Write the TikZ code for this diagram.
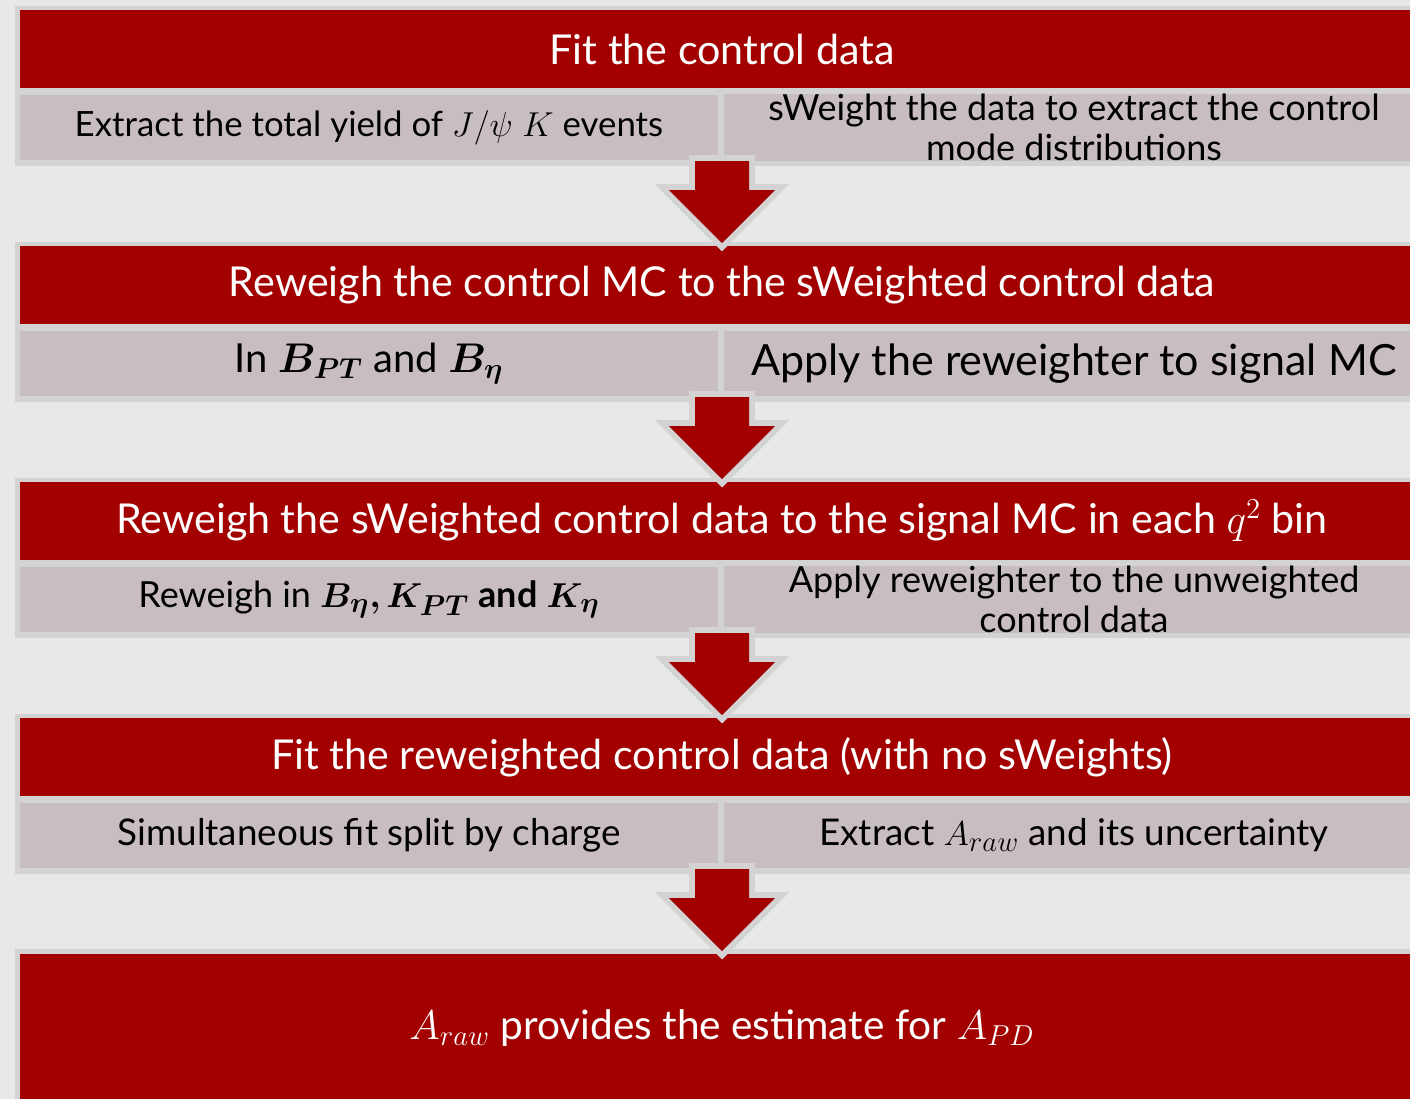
\documentclass[tikz,border=0pt]{standalone}
\usepackage{amsmath}
\usepackage{bm}
\usepackage{fontspec}
\setmainfont{Lato}
\usetikzlibrary{positioning}

% larger sub- and superscripts for the formula labels
\DeclareMathSizes{17.4}{17.4}{13.2}{10}
\DeclareMathSizes{18}{18}{13.6}{10}
\DeclareMathSizes{18.4}{18.4}{14}{10}
\DeclareMathSizes{20}{20}{15}{11}
\DeclareMathSizes{20.3}{20.3}{15.4}{11}
\DeclareMathSizes{20.6}{20.6}{15.6}{11}
\DeclareMathSizes{21.5}{21.5}{16.2}{12}

\definecolor{pagebg}{HTML}{E8E8E8}
\definecolor{framegrey}{HTML}{D3D3D3}
\definecolor{hdrred}{HTML}{A30000}
\definecolor{cellgrey}{HTML}{C8BEC2}

\tikzset{
  groupframe/.style={fill=framegrey, draw=none},
  hdrbox/.style={fill=hdrred, draw=none, text=white, inner sep=0pt,
    minimum width=702pt, minimum height=39pt, align=center,
    font=\fontsize{20.6}{24}\selectfont},
  leftcell/.style={fill=cellgrey, draw=none, text=black, inner sep=0pt,
    minimum width=349pt, minimum height=32.5pt, align=center,
    font=\fontsize{18}{20}\selectfont},
  rightcell/.style={leftcell, minimum width=350pt},
  blockarrow/.style={fill=hdrred,
    preaction={draw=framegrey, line width=6pt, line join=miter}},
}

\begin{document}
\begin{tikzpicture}[x=0.5pt, y=-0.5pt]
  % page
  \fill[pagebg] (0,0) rectangle (1410,1099);
  \useasboundingbox (0,0) rectangle (1410,1099);
  \begin{scope}
  \clip (0,0) rectangle (1410,1099);

  % stage 1
  \fill[groupframe] (15,6) rectangle (1440,166);
  \node[hdrbox] (h1) at (722,49) {Fit the control data};
  \node[leftcell, font=\fontsize{17.4}{20}\selectfont] (l1) at (369,127.5)
    {Extract the total yield of $J/\psi\;K$ events};
  \node[rightcell] (r1) at (1074,127.5)
    {sWeight the data to extract the control\\mode distributions};

  % stage 2
  \fill[groupframe] (15,242) rectangle (1440,402);
  \node[hdrbox] (h2) at (722,285) {Reweigh the control MC to the sWeighted control data};
  \node[leftcell, font=\fontsize{20}{24}\selectfont] (l2) at (369,363.5)
    {In $\bm{B_{PT}}$ and $\bm{B_\eta}$};
  \node[rightcell, font=\fontsize{21.5}{24}\selectfont] (r2) at (1074,363.5)
    {Apply the reweighter to signal MC};

  % stage 3
  \fill[groupframe] (15,478) rectangle (1440,638);
  \node[hdrbox] (h3) at (722,521)
    {Reweigh the sWeighted control data to the signal MC in each $q^2$ bin};
  \node[leftcell] (l3) at (369,599.5)
    {Reweigh in $\bm{B_\eta, K_{PT}}$ \textbf{and} $\bm{K_\eta}$};
  \node[rightcell] (r3) at (1074,599.5)
    {Apply reweighter to the unweighted\\control data};

  % stage 4
  \fill[groupframe] (15,714) rectangle (1440,874);
  \node[hdrbox] (h4) at (722,757) {Fit the reweighted control data (with no sWeights)};
  \node[leftcell, font=\fontsize{18.4}{20}\selectfont] (l4) at (369,835.5)
    {Simultaneous fit split by charge};
  \node[rightcell, font=\fontsize{18.4}{20}\selectfont] (r4) at (1074,835.5)
    {Extract $A_{raw}$ and its uncertainty};

  % result
  \fill[groupframe] (15,949) rectangle (1440,1120);
  \node[hdrbox, minimum height=74pt, font=\fontsize{20.3}{24}\selectfont] (h5) at (722,1028)
    {$A_{raw}$ provides the estimate for $A_{PD}$};

  % block arrows between the stages
  \foreach \y in {0,236,472,708} {
    \path[blockarrow]
      (695,161+\y) -- (749,161+\y) -- (749,190+\y) -- (775,190+\y)
      -- (722,243+\y) -- (669,190+\y) -- (695,190+\y) -- cycle;
  }
  \end{scope}
\end{tikzpicture}
\end{document}
